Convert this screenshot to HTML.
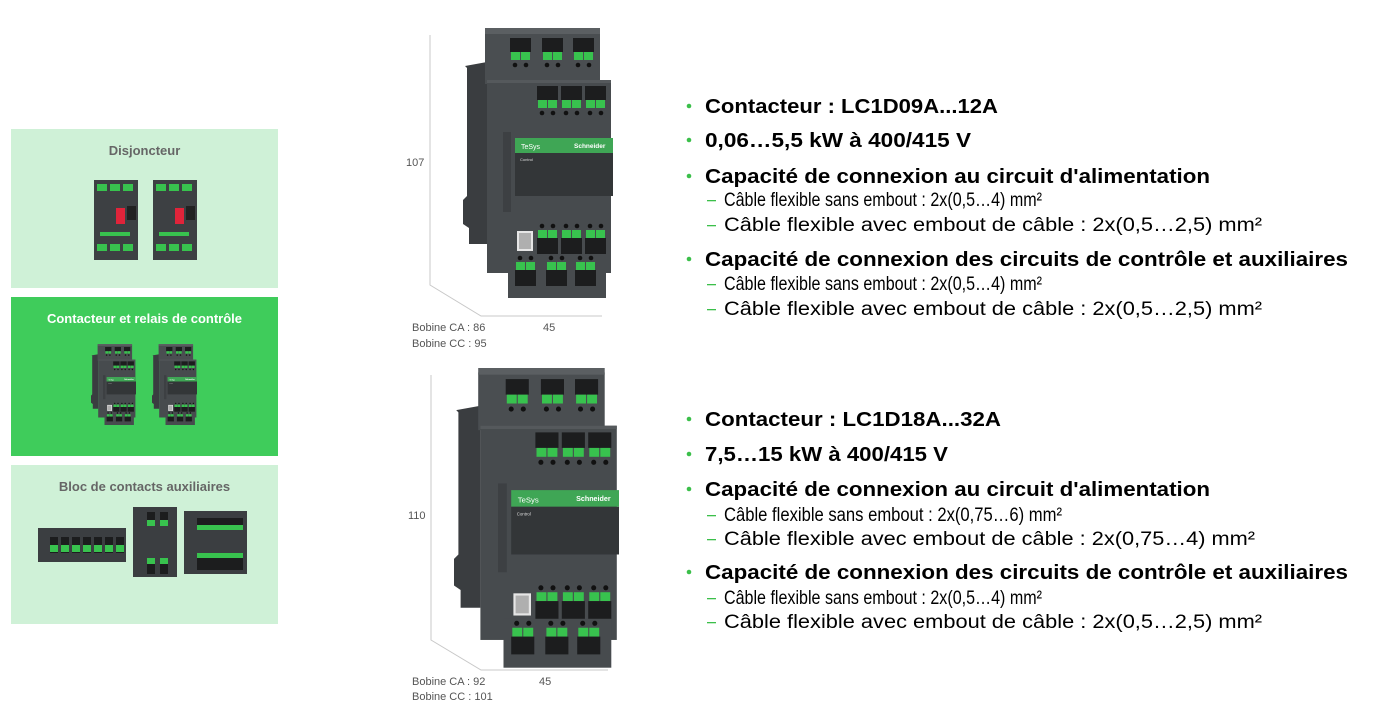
<!DOCTYPE html>
<html><head><meta charset="utf-8"><style>
html,body{margin:0;padding:0;background:#fff;}
svg{display:block;}
</style></head><body>
<svg width="1380" height="713" viewBox="0 0 1380 713" xmlns="http://www.w3.org/2000/svg" font-family="Liberation Sans, Arial, sans-serif">
<defs>
<g id="tg"><rect x="0" y="0" width="21" height="14" fill="#1c1d1e"/><rect x="1" y="14" width="9" height="8" fill="#38c24e"/><rect x="11" y="14" width="9" height="8" fill="#38c24e"/><circle cx="5" cy="27" r="2.3" fill="#111"/><circle cx="16" cy="27" r="2.3" fill="#111"/></g>
<g id="bg"><circle cx="5" cy="2" r="2.3" fill="#111"/><circle cx="16" cy="2" r="2.3" fill="#111"/><rect x="1" y="6" width="9" height="8" fill="#38c24e"/><rect x="11" y="6" width="9" height="8" fill="#38c24e"/><rect x="0" y="14" width="21" height="16" fill="#1c1d1e"/></g>
<g id="ct">
  <path d="M2 38 L24 34 L24 216 L6 216 L6 200 L0 196 L0 172 L4 168 L4 40 Z" fill="#3a3d40"/>
  <rect x="22" y="4" width="115" height="52" fill="#4a4e51"/>
  <rect x="22" y="0" width="115" height="6" fill="#5b5f62"/>
  <use href="#tg" x="47" y="10"/><use href="#tg" x="79" y="10"/><use href="#tg" x="110" y="10"/>
  <rect x="24" y="52" width="124" height="193" fill="#474b4e"/>
  <rect x="24" y="52" width="124" height="3" fill="#55595c"/>
  <use href="#tg" x="74" y="58"/><use href="#tg" x="98" y="58"/><use href="#tg" x="122" y="58"/>
  <rect x="40" y="104" width="8" height="80" fill="#3d4043"/>
  <rect x="52" y="110" width="98" height="15" fill="#3fa655"/>
  <text x="58" y="121" font-size="7" fill="#fff">TeSys</text>
  <text x="111" y="120" font-size="6.5" font-weight="bold" fill="#fff">Schneider</text>
  <rect x="52" y="125" width="98" height="43" fill="#333638"/>
  <text x="57" y="133" font-size="4" fill="#ddd">Control</text>
  <rect x="54" y="203" width="16" height="20" fill="#e6e6e6"/>
  <rect x="56" y="205" width="12" height="16" fill="#8a8a8a" opacity=".6"/>
  <use href="#bg" x="74" y="196"/><use href="#bg" x="98" y="196"/><use href="#bg" x="122" y="196"/>
  <rect x="45" y="226" width="98" height="44" fill="#474b4e"/>
  <use href="#bg" x="52" y="228"/><use href="#bg" x="83" y="228"/><use href="#bg" x="112" y="228"/>
</g>
<g id="br">
  <rect x="0" y="0" width="44" height="80" fill="#3d4043"/>
  <rect x="3" y="4" width="10" height="7" fill="#38c24e"/><rect x="16" y="4" width="10" height="7" fill="#38c24e"/><rect x="29" y="4" width="10" height="7" fill="#38c24e"/>
  <rect x="22" y="28" width="9" height="16" fill="#e0243a"/>
  <rect x="33" y="26" width="9" height="14" fill="#222"/>
  <rect x="6" y="52" width="30" height="4" fill="#38c24e"/>
  <rect x="3" y="64" width="10" height="7" fill="#38c24e"/><rect x="16" y="64" width="10" height="7" fill="#38c24e"/><rect x="29" y="64" width="10" height="7" fill="#38c24e"/>
</g>
</defs>

<rect x="11" y="129" width="267" height="159" fill="#cff1d7"/>
<text x="144.5" y="155" font-size="13" font-weight="bold" fill="#666" text-anchor="middle">Disjoncteur</text>
<use href="#br" x="94" y="180"/><use href="#br" x="153" y="180"/>
<rect x="11" y="297" width="267" height="159" fill="#3fcc5b"/>
<text x="144.5" y="323" font-size="13" font-weight="bold" fill="#fff" text-anchor="middle">Contacteur et relais de contrôle</text>
<use href="#ct" transform="translate(91,344) scale(0.30)"/>
<use href="#ct" transform="translate(152,344) scale(0.30)"/>
<rect x="11" y="465" width="267" height="159" fill="#cff1d7"/>
<text x="144.5" y="491" font-size="13" font-weight="bold" fill="#666" text-anchor="middle">Bloc de contacts auxiliaires</text>
<g>
  <rect x="38" y="528" width="88" height="34" fill="#3b3e41"/>
  <rect x="50" y="537" width="8" height="16" fill="#1c1d1e"/><rect x="61" y="537" width="8" height="16" fill="#1c1d1e"/><rect x="72" y="537" width="8" height="16" fill="#1c1d1e"/><rect x="83" y="537" width="8" height="16" fill="#1c1d1e"/><rect x="94" y="537" width="8" height="16" fill="#1c1d1e"/><rect x="105" y="537" width="8" height="16" fill="#1c1d1e"/><rect x="116" y="537" width="8" height="16" fill="#1c1d1e"/>
  <rect x="50" y="545" width="8" height="7" fill="#38c24e"/><rect x="61" y="545" width="8" height="7" fill="#38c24e"/><rect x="72" y="545" width="8" height="7" fill="#38c24e"/><rect x="83" y="545" width="8" height="7" fill="#38c24e"/><rect x="94" y="545" width="8" height="7" fill="#38c24e"/><rect x="105" y="545" width="8" height="7" fill="#38c24e"/><rect x="116" y="545" width="8" height="7" fill="#38c24e"/>
  <rect x="133" y="507" width="44" height="70" fill="#3b3e41"/>
  <rect x="147" y="512" width="8" height="14" fill="#1c1d1e"/><rect x="160" y="512" width="8" height="14" fill="#1c1d1e"/>
  <rect x="147" y="520" width="8" height="6" fill="#38c24e"/><rect x="160" y="520" width="8" height="6" fill="#38c24e"/>
  <rect x="147" y="558" width="8" height="6" fill="#38c24e"/><rect x="160" y="558" width="8" height="6" fill="#38c24e"/>
  <rect x="147" y="564" width="8" height="10" fill="#1c1d1e"/><rect x="160" y="564" width="8" height="10" fill="#1c1d1e"/>
  <rect x="184" y="511" width="63" height="63" fill="#3b3e41"/>
  <rect x="197" y="518" width="46" height="10" fill="#1c1d1e"/><rect x="197" y="525" width="46" height="5" fill="#38c24e"/>
  <rect x="197" y="553" width="46" height="5" fill="#38c24e"/><rect x="197" y="558" width="46" height="12" fill="#1c1d1e"/>
</g>

<g stroke="#c8c8c8" stroke-width="1" fill="none">
  <polyline points="430,35 430,285 481,316 602,316"/>
  <polyline points="431,375 431,640 481,670 608,670"/>
</g>
<g font-size="11" fill="#555">
  <text x="406" y="166">107</text>
  <text x="412" y="331">Bobine CA : 86</text>
  <text x="412" y="347">Bobine CC : 95</text>
  <text x="543" y="331">45</text>
  <text x="408" y="519">110</text>
  <text x="412" y="685">Bobine CA : 92</text>
  <text x="412" y="700">Bobine CC : 101</text>
  <text x="539" y="685">45</text>
</g>

<use href="#ct" transform="translate(463,28)"/>
<use href="#ct" transform="translate(454,368) scale(1.1,1.11)"/>

<g fill="#000">
  <g fill="#3bbf4a">
    <circle cx="689" cy="106" r="2.3"/><circle cx="689" cy="140" r="2.3"/><circle cx="689" cy="176" r="2.3"/><circle cx="689" cy="259" r="2.3"/>
    <circle cx="689" cy="419" r="2.3"/><circle cx="689" cy="454" r="2.3"/><circle cx="689" cy="489" r="2.3"/><circle cx="689" cy="572" r="2.3"/>
    <rect x="707" y="200" width="9" height="1.3"/><rect x="707" y="225" width="9" height="1.3"/><rect x="707" y="284" width="9" height="1.3"/><rect x="707" y="309" width="9" height="1.3"/>
    <rect x="707" y="515" width="9" height="1.3"/><rect x="707" y="539" width="9" height="1.3"/><rect x="707" y="598" width="9" height="1.3"/><rect x="707" y="622" width="9" height="1.3"/>
  </g>
  <g font-size="20" font-weight="bold">
    <text x="705" y="113" textLength="293" lengthAdjust="spacingAndGlyphs">Contacteur : LC1D09A...12A</text>
    <text x="705" y="147" textLength="266" lengthAdjust="spacingAndGlyphs">0,06…5,5 kW à 400/415 V</text>
    <text x="705" y="183" textLength="505" lengthAdjust="spacingAndGlyphs">Capacité de connexion au circuit d'alimentation</text>
    <text x="705" y="266" textLength="643" lengthAdjust="spacingAndGlyphs">Capacité de connexion des circuits de contrôle et auxiliaires</text>
    <text x="705" y="426" textLength="296" lengthAdjust="spacingAndGlyphs">Contacteur : LC1D18A...32A</text>
    <text x="705" y="461" textLength="243" lengthAdjust="spacingAndGlyphs">7,5…15 kW à 400/415 V</text>
    <text x="705" y="496" textLength="505" lengthAdjust="spacingAndGlyphs">Capacité de connexion au circuit d'alimentation</text>
    <text x="705" y="579" textLength="643" lengthAdjust="spacingAndGlyphs">Capacité de connexion des circuits de contrôle et auxiliaires</text>
  </g>
  <g font-size="19">
    <text x="724" y="206" textLength="318" lengthAdjust="spacingAndGlyphs">Câble flexible sans embout : 2x(0,5…4) mm²</text>
    <text x="724" y="231" textLength="538" lengthAdjust="spacingAndGlyphs">Câble flexible avec embout de câble : 2x(0,5…2,5) mm²</text>
    <text x="724" y="290" textLength="318" lengthAdjust="spacingAndGlyphs">Câble flexible sans embout : 2x(0,5…4) mm²</text>
    <text x="724" y="315" textLength="538" lengthAdjust="spacingAndGlyphs">Câble flexible avec embout de câble : 2x(0,5…2,5) mm²</text>
    <text x="724" y="521" textLength="338" lengthAdjust="spacingAndGlyphs">Câble flexible sans embout : 2x(0,75…6) mm²</text>
    <text x="724" y="545" textLength="531" lengthAdjust="spacingAndGlyphs">Câble flexible avec embout de câble : 2x(0,75…4) mm²</text>
    <text x="724" y="604" textLength="318" lengthAdjust="spacingAndGlyphs">Câble flexible sans embout : 2x(0,5…4) mm²</text>
    <text x="724" y="628" textLength="538" lengthAdjust="spacingAndGlyphs">Câble flexible avec embout de câble : 2x(0,5…2,5) mm²</text>
  </g>
</g>
</svg>
</body></html>
